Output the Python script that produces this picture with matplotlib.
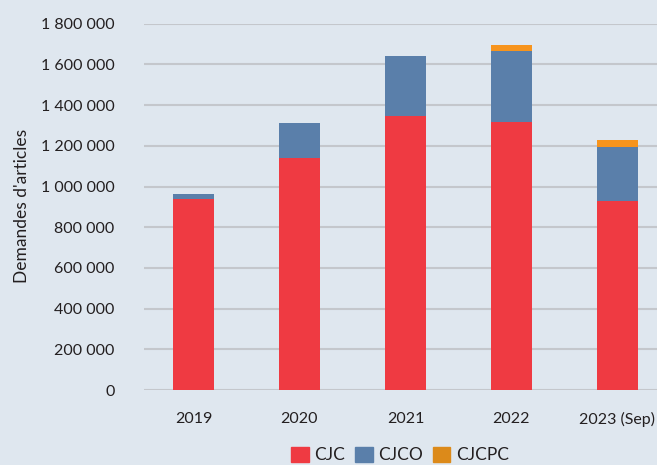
import matplotlib
matplotlib.use('Agg')
import matplotlib.pyplot as plt
from matplotlib.patches import Patch
from matplotlib.ticker import FuncFormatter
import numpy as np

years = ['2019', '2020', '2021', '2022', '2023 (Sep)']
cjc = [938000, 1139000, 1349000, 1316000, 927000]
cjco = [25000, 172000, 291000, 349000, 266000]
cjcpc = [0, 0, 0, 29000, 35000]

BG = '#dfe7ef'
TEXT = '#231f20'
RED, BLUE, ORANGE = '#ef3a42', '#5a7faa', '#f7941d'

plt.rcParams['font.family'] = ['Lato', 'DejaVu Sans']
plt.rcParams['text.color'] = TEXT

fig = plt.figure(figsize=(6.57, 4.65), dpi=100, facecolor=BG)
ax = fig.add_axes([0.219, 0.161, 0.781, 0.788], facecolor=BG)

x = np.arange(len(years))
w = 0.39
cjc = np.array(cjc)
cjco = np.array(cjco)
cjcpc = np.array(cjcpc)
ax.bar(x, cjc, w, color=RED, zorder=3)
ax.bar(x, cjco, w, bottom=cjc, color=BLUE, zorder=3)
# skip the empty CJCPC years so no sliver gets drawn
m = cjcpc > 0
ax.bar(x[m], cjcpc[m], w, bottom=(cjc + cjco)[m], color=ORANGE, zorder=3)

ax.set_ylim(0, 1800000)
ax.set_xlim(-0.467, 4.373)
ax.set_yticks(np.arange(0, 1800001, 200000))
ax.yaxis.set_major_formatter(FuncFormatter(lambda v, p: f'{int(v):,}'.replace(',', ' ')))
ax.set_xticks(x)
ax.set_xticklabels(years)
ax.tick_params(axis='y', length=0, pad=21, labelsize=11.5, labelcolor=TEXT)
ax.tick_params(axis='x', length=0, pad=16, labelsize=11.5, labelcolor=TEXT)
ax.grid(axis='y', color='#c4c7cc', linewidth=1.5, zorder=0)
for s in ax.spines.values():
    s.set_visible(False)

fig.text(0.034, 0.558, "Demandes d'articles", rotation=90, va='center', ha='center',
         fontsize=12.5, color=TEXT)

# legend swatch for CJCPC is a darker orange than the bars in the original
handles = [Patch(color=RED), Patch(color=BLUE), Patch(color='#dc8a1a')]
fig.legend(handles, ['CJC', 'CJCO', 'CJCPC'], loc='center',
           bbox_to_anchor=(400 / 657, 1 - 455 / 465),
           ncol=3, frameon=False, fontsize=12.5, handlelength=1.0, handleheight=1.0,
           handletextpad=0.3, columnspacing=0.6)

fig.savefig('out.png', dpi=100, facecolor=BG)
